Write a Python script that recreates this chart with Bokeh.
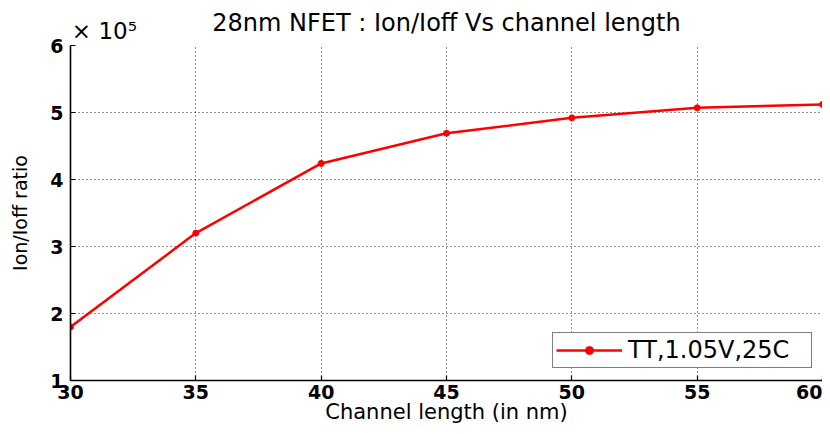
from bokeh.plotting import figure
from bokeh.models import Legend, LegendItem, FixedTicker, LinearAxis
from bokeh.embed import file_html
from bokeh.resources import INLINE

channel_length = [30, 35, 40, 45, 50, 55, 60]
ion_ioff = [1.80, 3.20, 4.24, 4.69, 4.92, 5.07, 5.12]
x_ticks = [30, 35, 40, 45, 50, 55, 60]
y_ticks = [1, 2, 3, 4, 5, 6]
series_name = "TT,1.05V,25C"
title_text = "28nm NFET : Ion/Ioff Vs channel length"
x_label = "Channel length (in nm)"
y_label = "Ion/Ioff ratio"
exponent_text = "× 10⁵"

FONT = "DejaVu Sans"

W, H = 822, 426
p = figure(width=W, height=H, output_backend="svg", toolbar_location=None,
           x_range=(30, 60), y_range=(1, 6),
           min_border_left=70, min_border_right=0, min_border_top=45,
           min_border_bottom=44)
p.outline_line_color = None
p.background_fill_color = "white"
p.border_fill_color = "white"
p.title.text = ""
p.title.visible = False

for ax in (p.xaxis[0], p.yaxis[0]):
    ax.axis_line_color = "black"
    ax.axis_line_width = 1.6
    ax.major_tick_in = 5
    ax.major_tick_out = 0
    ax.major_tick_line_color = "black"
    ax.major_tick_line_width = 1.2
    ax.minor_tick_line_color = None
    ax.major_label_text_font = FONT
    ax.major_label_text_font_style = "bold"
    ax.major_label_text_font_size = "19px"
    ax.major_label_text_color = "black"
    ax.axis_label_text_font = FONT
    ax.axis_label_text_font_style = "normal"
    ax.axis_label_text_color = "black"

p.xaxis.ticker = FixedTicker(ticks=x_ticks)
p.yaxis.ticker = FixedTicker(ticks=y_ticks)
p.xaxis.major_label_standoff = 4
p.yaxis.major_label_standoff = 7
p.xaxis.axis_label = x_label
p.xaxis.axis_label_text_font_size = "21px"
p.xaxis.axis_label_standoff = -2
p.yaxis.axis_label = y_label
p.yaxis.axis_label_text_font_size = "19px"
p.yaxis.axis_label_standoff = 16

# top guide carrying the exponent marker (as its single tick label) and the title
exp_tick = 30 + 1.35
top = LinearAxis(ticker=FixedTicker(ticks=[exp_tick]),
                 major_label_overrides={exp_tick: exponent_text},
                 axis_label=title_text)
top.axis_line_color = None
top.major_tick_line_color = None
top.minor_tick_line_color = None
top.major_tick_in = 0
top.major_tick_out = 0
top.major_label_text_font = FONT
top.major_label_text_font_size = "23px"
top.major_label_text_color = "black"
top.major_label_standoff = 2
top.axis_label_text_font = FONT
top.axis_label_text_font_size = "24px"
top.axis_label_text_font_style = "normal"
top.axis_label_text_color = "black"
top.axis_label_standoff = -22
p.add_layout(top, "above")

for g in (p.xgrid[0], p.ygrid[0]):
    g.grid_line_color = "black"
    g.grid_line_dash = "1 3"
    g.grid_line_width = 1
    g.grid_line_alpha = 0.85

line = p.line(channel_length, ion_ioff, line_color="red", line_width=2.5)
dots = p.scatter(channel_length, ion_ioff, marker="circle", size=6,
                 fill_color="red", line_color="red")

legend = Legend(items=[LegendItem(label=series_name, renderers=[line, dots])],
                location=(482, 12))
legend.label_text_font = FONT
legend.label_text_font_size = "24px"
legend.label_text_color = "black"
legend.border_line_color = "black"
legend.border_line_width = 1.2
legend.background_fill_color = "white"
legend.background_fill_alpha = 1
legend.glyph_width = 66
legend.label_width = 180
legend.margin = 0
legend.padding = 3
legend.spacing = 0
legend.label_standoff = 6
p.add_layout(legend)

open("out.html", "w").write(file_html(p, INLINE))
